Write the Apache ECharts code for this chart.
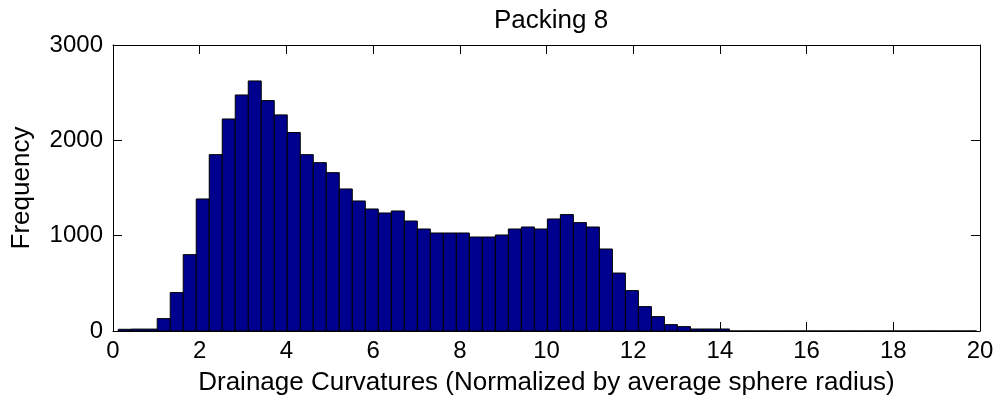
<!DOCTYPE html>
<html>
<head>
<meta charset="utf-8">
<script src="https://cdn.jsdelivr.net/npm/echarts@6/dist/echarts.min.js"></script>
<style>
  html, body { margin: 0; padding: 0; background: #fff; }
  #chart { width: 999px; height: 406px; }
</style>
</head>
<body>
<div id="chart"></div>
<script>
// Histogram of drainage curvatures, bins of equal width starting at binStart
const binStart = 0.12;
const binWidth = 0.3;
const frequencies = [
  18, 20, 20, 130, 403, 801, 1385, 1850, 2224, 2476,
  2623, 2417, 2267, 2082, 1850, 1766, 1661, 1490, 1364, 1280,
  1238, 1259, 1154, 1070, 1028, 1028, 1028, 986, 986, 1007,
  1070, 1091, 1070, 1175, 1221, 1137, 1091, 860, 608, 424,
  256, 151, 67, 46, 21, 21, 21, 0, 0, 0,
  0, 0, 0, 0, 0, 0, 0, 0, 0, 0,
  0, 0, 0, 0, 0, 0
];
const xTicks = [0, 2, 4, 6, 8, 10, 12, 14, 16, 18, 20];
const yTicks = [0, 1000, 2000, 3000];

const titleText = 'Packing 8';
const xName = 'Drainage Curvatures (Normalized by average sphere radius)';
const yName = 'Frequency';

const bins = frequencies.map((f, i) => [binStart + i * binWidth, binStart + (i + 1) * binWidth, f]);

const font = 'Liberation Sans, Arial, Helvetica, sans-serif';
const chart = echarts.init(document.getElementById('chart'), null, { renderer: 'canvas' });

const xBase = {
  type: 'value',
  min: xTicks[0],
  max: xTicks[xTicks.length - 1],
  interval: xTicks[1] - xTicks[0],
  splitLine: { show: false },
  axisLine: { show: true, onZero: false, lineStyle: { color: '#000', width: 1 } },
  axisTick: { show: true, inside: true, length: 9, lineStyle: { color: '#000' } }
};
const yBase = {
  type: 'value',
  min: yTicks[0],
  max: yTicks[yTicks.length - 1],
  interval: yTicks[1] - yTicks[0],
  splitLine: { show: false },
  axisLine: { show: true, onZero: false, lineStyle: { color: '#000', width: 1 } },
  axisTick: { show: true, inside: true, length: 9, lineStyle: { color: '#000' } }
};

chart.setOption({
  animation: false,
  backgroundColor: '#fff',
  title: {
    text: titleText,
    left: 546,
    textAlign: 'center',
    top: 3,
    textStyle: { fontFamily: font, fontSize: 26, fontWeight: 'normal', color: '#000' }
  },
  grid: { left: 113, right: 19, top: 45, bottom: 75, containLabel: false },
  xAxis: [
    Object.assign({}, xBase, {
      position: 'bottom',
      name: xName,
      nameLocation: 'middle',
      nameGap: 39,
      nameTextStyle: { fontFamily: font, fontSize: 26, color: '#000' },
      axisLabel: { show: true, margin: 8, fontFamily: font, fontSize: 24, color: '#000',
                   formatter: (v) => String(v) }
    }),
    Object.assign({}, xBase, { position: 'top', axisLabel: { show: false } })
  ],
  yAxis: [
    Object.assign({}, yBase, {
      position: 'left',
      name: yName,
      nameLocation: 'middle',
      nameGap: 78,
      nameTextStyle: { fontFamily: font, fontSize: 26, color: '#000' },
      axisLabel: { show: true, margin: 10, fontFamily: font, fontSize: 24, color: '#000',
                   formatter: (v) => String(v) }
    }),
    Object.assign({}, yBase, { position: 'right', axisLabel: { show: false } })
  ],
  series: [{
    type: 'custom',
    xAxisIndex: 0,
    yAxisIndex: 0,
    data: bins,
    encode: { x: [0, 1], y: 2 },
    renderItem: function (params, api) {
      const p0 = api.coord([api.value(0), api.value(2)]);
      const p1 = api.coord([api.value(1), 0]);
      return {
        type: 'rect',
        shape: { x: p0[0], y: p0[1], width: p1[0] - p0[0], height: p1[1] - p0[1] },
        style: { fill: '#00008F', stroke: '#000', lineWidth: 1 }
      };
    }
  }]
});
</script>
</body>
</html>
